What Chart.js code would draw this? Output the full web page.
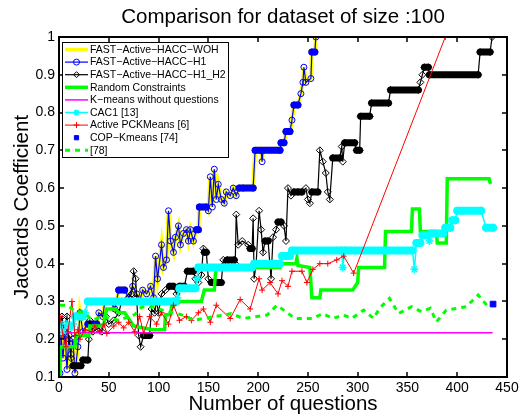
<!DOCTYPE html>
<html>
<head>
<meta charset="utf-8">
<script src="https://cdn.jsdelivr.net/npm/chart.js@4.4.1/dist/chart.umd.min.js"></script>
<style>
  html, body { margin: 0; padding: 0; background: #fff; }
  #wrap { width: 530px; height: 417px; }
</style>
</head>
<body>
<div id="wrap"><canvas id="jaccardChart" width="530" height="417"></canvas></div>
<script>
// values (x = number of questions, y = Jaccard coefficient)
const xTicks = [0, 50, 100, 150, 200, 250, 300, 350, 400, 450];
const yTicks = [0.1, 0.2, 0.3, 0.4, 0.5, 0.6, 0.7, 0.8, 0.9, 1];

const labels = [
  'FAST\u2212Active\u2212HACC\u2212WOH',
  'FAST\u2212Active\u2212HACC\u2212H1',
  'FAST\u2212Active\u2212HACC\u2212H1_H2',
  'Random Constraints',
  'K\u2212means without questions',
  'CAC1 [13]',
  'Active PCKMeans [6]',
  'COP\u2212Kmeans [74]',
  '[78]'
];

// FAST-Active-HACC-H1 (WOH lies under it)
const h1X = [1,2,4,6,8,10,12,14,16,19,21,24,29,38,40,44,46,52,56,60,66,70,74,78,81,84,88,92,95,97,99,103,105,108,110,112,115,117,120,122,125,128,130,132,135,138,140,141,148,150,152,154,156,158,160,163,166,168,172,175,178,181,185,195,197,203,204,205,222,223,226,228,232,234,236,240,243,245,246,248,253,254,257,258];
const h1Y = [0.11,0.21,0.15,0.22,0.12,0.21,0.16,0.20,0.11,0.18,0.27,0.22,0.24,0.24,0.27,0.26,0.30,0.30,0.28,0.33,0.33,0.31,0.34,0.32,0.30,0.33,0.32,0.34,0.31,0.42,0.36,0.45,0.39,0.41,0.54,0.46,0.43,0.47,0.50,0.45,0.48,0.49,0.46,0.49,0.46,0.49,0.49,0.55,0.55,0.54,0.63,0.55,0.65,0.57,0.61,0.57,0.56,0.59,0.58,0.60,0.58,0.60,0.60,0.60,0.70,0.70,0.67,0.70,0.70,0.72,0.72,0.75,0.75,0.78,0.82,0.82,0.85,0.88,0.92,0.88,0.89,0.96,0.96,1.0];

// FAST-Active-HACC-H1_H2
const h12X = [1,3,5,8,10,12,14,22,24,29,30,31,34,40,43,47,50,55,60,63,66,70,73,75,77,78,80,82,85,91,93,96,98,100,103,107,111,115,118,121,126,129,135,137,140,143,145,146,148,150,153,160,163,165,167,169,176,177,178,180,184,190,192,194,195,196,198,201,203,205,207,210,213,215,218,220,223,226,228,230,233,236,240,244,248,250,252,254,260,262,265,268,270,272,275,282,284,285,287,297,299,302,303,312,314,331,333,361,363,365,367,371,372,421,423,433,435];
const h12Y = [0.24,0.26,0.22,0.26,0.20,0.15,0.13,0.13,0.145,0.145,0.20,0.25,0.22,0.23,0.22,0.26,0.24,0.25,0.27,0.30,0.30,0.31,0.32,0.38,0.36,0.31,0.21,0.18,0.21,0.21,0.28,0.27,0.30,0.27,0.32,0.33,0.34,0.34,0.32,0.34,0.34,0.38,0.38,0.36,0.35,0.37,0.44,0.43,0.43,0.36,0.35,0.35,0.35,0.41,0.40,0.41,0.41,0.40,0.53,0.45,0.46,0.45,0.44,0.44,0.52,0.36,0.40,0.54,0.49,0.43,0.46,0.46,0.36,0.47,0.49,0.51,0.51,0.50,0.46,0.60,0.58,0.59,0.59,0.59,0.60,0.57,0.56,0.59,0.59,0.70,0.67,0.64,0.59,0.57,0.68,0.68,0.71,0.67,0.72,0.72,0.70,0.70,0.79,0.79,0.825,0.825,0.86,0.86,0.88,0.90,0.92,0.92,0.90,0.90,0.96,0.96,1.0];

// Random Constraints
const randX = [1,1,16,17,30,31,45,46,48,57,60,66,75,94,106,107,112,113,122,143,146,156,157,158,222,224,238,239,240,252,254,262,263,295,300,301,327,328,354,355,362,363,379,380,389,390,432,433];
const randY = [0.10,0.18,0.18,0.21,0.21,0.235,0.235,0.26,0.28,0.28,0.27,0.27,0.235,0.225,0.225,0.265,0.265,0.285,0.30,0.30,0.33,0.33,0.37,0.39,0.39,0.40,0.40,0.415,0.395,0.39,0.31,0.31,0.33,0.33,0.35,0.39,0.39,0.485,0.485,0.545,0.545,0.485,0.485,0.455,0.455,0.625,0.625,0.615];

// K-means without questions
const kmX = [1, 435];
const kmY = [0.217, 0.217];

// CAC1 [13]
const cacX = [1,4,8,12,14,16,24,26,29,117,119,121,137,139,140,194,196,222,224,232,234,284,285,287,355,357,359,363,365,370,372,374,386,388,393,395,398,400,424,429,436];
const cacY = [0.24,0.22,0.24,0.23,0.24,0.26,0.26,0.27,0.30,0.30,0.31,0.335,0.335,0.36,0.39,0.39,0.40,0.40,0.42,0.42,0.435,0.435,0.39,0.435,0.435,0.385,0.455,0.455,0.475,0.475,0.46,0.48,0.48,0.495,0.495,0.515,0.515,0.54,0.54,0.495,0.495];

// Active PCKMeans [6]
const pckX = [1,4,7,9,13,16,19,21,26,33,36,41,45,48,55,60,65,70,76,81,85,91,98,103,110,115,121,128,133,140,145,152,158,172,182,192,201,204,212,220,224,230,234,244,249,255,262,270,279,286,296,388];
const pckY = [0.26,0.21,0.18,0.22,0.30,0.21,0.225,0.20,0.225,0.22,0.235,0.22,0.24,0.215,0.235,0.245,0.23,0.245,0.22,0.26,0.215,0.26,0.24,0.27,0.24,0.29,0.25,0.26,0.25,0.27,0.28,0.245,0.29,0.255,0.305,0.28,0.36,0.33,0.35,0.32,0.355,0.34,0.38,0.38,0.35,0.385,0.40,0.40,0.41,0.42,0.375,1.0];

// COP-Kmeans [74]
const copX = [436];
const copY = [0.293];

// [78]
const g78X = [1,8,16,26,33,43,60,76,83,96,106,123,136,145,157,173,185,209,219,237,255,265,275,286,294,306,316,322,332,341,354,364,373,379,389,409,421,431];
const g78Y = [0.29,0.29,0.275,0.27,0.25,0.26,0.25,0.265,0.285,0.285,0.275,0.265,0.25,0.255,0.26,0.268,0.255,0.264,0.29,0.255,0.255,0.268,0.255,0.264,0.255,0.277,0.255,0.282,0.308,0.268,0.286,0.273,0.282,0.246,0.277,0.286,0.317,0.286];

Chart.defaults.font.family = '"Liberation Sans", Arial, Helvetica, sans-serif';
Chart.defaults.color = '#000';

function pts(xs, ys) {
  return xs.map((x, i) => ({ x: x, y: ys[i] }));
}

// runs of equal values are drawn thick, like the packed markers in the original
function flatBars(thick, thin) {
  return { borderWidth: c => (c.p0.parsed.y === c.p1.parsed.y ? thick : thin) };
}

const clear = 'rgba(0,0,0,0)';

const datasets = [
  { label: labels[0], data: pts(h1X, h1Y), borderColor: '#ffff00', borderWidth: 4,
    pointRadius: 0, order: 9, segment: flatBars(7, 4) },
  { label: labels[1], data: pts(h1X, h1Y), borderColor: '#0000ff', borderWidth: 1.2,
    pointStyle: 'circle', pointRadius: 3, pointBorderColor: '#0000ff', pointBackgroundColor: clear,
    pointBorderWidth: 1, order: 8, segment: flatBars(7, 1.2) },
  { label: labels[2], data: pts(h12X, h12Y), borderColor: '#000000', borderWidth: 1.2,
    pointStyle: 'rectRot', pointRadius: 3.5, pointBorderColor: '#000000', pointBackgroundColor: clear,
    pointBorderWidth: 1, order: 7, segment: flatBars(7, 1.2) },
  { label: labels[3], data: pts(randX, randY), borderColor: '#00ff00', borderWidth: 3.5,
    pointRadius: 0, order: 6 },
  { label: labels[4], data: pts(kmX, kmY), borderColor: '#ff00ff', borderWidth: 1.5,
    pointRadius: 0, order: 5 },
  { label: labels[5], data: pts(cacX, cacY), borderColor: '#00ffff', borderWidth: 1.5,
    pointStyle: 'star', pointRadius: 4, pointBorderColor: '#00ffff', pointBackgroundColor: '#00ffff',
    pointBorderWidth: 1.5, order: 4, segment: flatBars(8, 1.5) },
  { label: labels[6], data: pts(pckX, pckY), borderColor: '#ff0000', borderWidth: 1,
    pointStyle: 'cross', pointRadius: 3, pointBorderColor: '#ff0000', pointBorderWidth: 1, order: 3 },
  { label: labels[7], data: pts(copX, copY), borderColor: '#0000ff', showLine: false,
    pointStyle: 'rect', pointRadius: 4, pointBackgroundColor: '#0000ff', pointBorderColor: '#0000ff', order: 2 },
  { label: labels[8], data: pts(g78X, g78Y), borderColor: '#00ff00', borderWidth: 3, borderDash: [5, 5],
    pointRadius: 0, order: 1 }
];
datasets.forEach(d => {
  if (d.showLine === undefined) d.showLine = true;
  d.fill = false;
  d.tension = 0;
  d.borderCapStyle = 'round';
});
datasets[8].borderCapStyle = 'butt';

// MATLAB-like box with inward ticks on all four sides
const matlabFrame = {
  id: 'matlabFrame',
  afterDatasetsDraw(chart) {
    const { ctx, chartArea: a, scales } = chart;
    ctx.save();
    ctx.strokeStyle = '#000';
    ctx.lineWidth = 1.5;
    ctx.beginPath();
    xTicks.forEach(v => {
      const px = Math.round(scales.x.getPixelForValue(v));
      ctx.moveTo(px, a.bottom); ctx.lineTo(px, a.bottom - 5);
      ctx.moveTo(px, a.top); ctx.lineTo(px, a.top + 5);
    });
    yTicks.forEach(v => {
      const py = Math.round(scales.y.getPixelForValue(v));
      ctx.moveTo(a.left, py); ctx.lineTo(a.left + 5, py);
      ctx.moveTo(a.right, py); ctx.lineTo(a.right - 5, py);
    });
    ctx.stroke();
    ctx.lineWidth = 2;
    ctx.strokeRect(a.left, a.top, a.right - a.left, a.bottom - a.top);
    ctx.restore();
  }
};

// legend box inside the plot, upper left
const insideLegend = {
  id: 'insideLegend',
  afterDraw(chart) {
    const { ctx } = chart;
    const box = { x: 62, y: 42, w: 166, h: 115 };
    const rowH = 12.6;
    ctx.save();
    ctx.fillStyle = '#fff';
    ctx.fillRect(box.x, box.y, box.w, box.h);
    ctx.strokeStyle = '#000';
    ctx.lineWidth = 1;
    ctx.strokeRect(box.x + 0.5, box.y + 0.5, box.w, box.h);
    ctx.font = '10.5px "Liberation Sans", Arial, sans-serif';
    ctx.textBaseline = 'middle';
    chart.data.datasets.forEach((d, i) => {
      const y = box.y + 7.5 + i * rowH;
      const x0 = box.x + 3, x1 = box.x + 26;
      if (d.showLine) {
        ctx.save();
        ctx.strokeStyle = d.borderColor;
        ctx.lineWidth = Math.min(d.borderWidth, 3.5);
        ctx.setLineDash(d.borderDash || []);
        ctx.beginPath();
        ctx.moveTo(x0, y); ctx.lineTo(x1, y);
        ctx.stroke();
        ctx.restore();
      }
      if (d.pointRadius > 0) {
        ctx.save();
        ctx.strokeStyle = d.pointBorderColor;
        ctx.fillStyle = d.pointBackgroundColor || clear;
        ctx.lineWidth = d.pointBorderWidth || 1;
        Chart.helpers.drawPoint(ctx, {
          pointStyle: d.pointStyle, rotation: 0,
          radius: Math.min(d.pointRadius, 3), borderWidth: ctx.lineWidth
        }, (x0 + x1) / 2, y);
        ctx.restore();
      }
      ctx.fillStyle = '#000';
      ctx.fillText(d.label, box.x + 28, y + 0.5);
    });
    ctx.restore();
  }
};

new Chart(document.getElementById('jaccardChart').getContext('2d'), {
  type: 'scatter',
  data: { datasets: datasets },
  options: {
    responsive: false,
    animation: false,
    events: [],
    layout: { padding: { left: 0, right: 23, top: 0, bottom: 0 } },
    plugins: {
      legend: { display: false },
      tooltip: { enabled: false },
      title: {
        display: true,
        text: 'Comparison for dataset of size :100',
        fullSize: false,
        color: '#000',
        font: { size: 20.5, weight: 'normal' },
        padding: { top: 5, bottom: 7.4 }
      }
    },
    scales: {
      x: {
        type: 'linear',
        min: 0,
        max: 450,
        afterFit: s => { s.height = 40; },
        afterBuildTicks: s => { s.ticks = xTicks.map(v => ({ value: v })); },
        grid: { display: false, drawTicks: false },
        border: { display: false },
        ticks: { padding: 3, maxRotation: 0, color: '#000', font: { size: 14 } },
        title: {
          display: true, text: 'Number of questions', color: '#000',
          font: { size: 20.5 }, padding: { top: 0, bottom: 0.5 }
        }
      },
      y: {
        type: 'linear',
        min: 0.1,
        max: 1,
        afterFit: s => { s.width = 59; },
        afterBuildTicks: s => { s.ticks = yTicks.map(v => ({ value: v })); },
        grid: { display: false, drawTicks: false },
        border: { display: false },
        ticks: {
          padding: 4, color: '#000', font: { size: 14 },
          callback: v => String(Number(v.toFixed(1)))
        },
        title: {
          display: true, text: 'Jaccards Coefficient', color: '#000',
          font: { size: 20.5 }, padding: { top: 9.7, bottom: 0 }
        }
      }
    }
  },
  plugins: [matlabFrame, insideLegend]
});
</script>
</body>
</html>
